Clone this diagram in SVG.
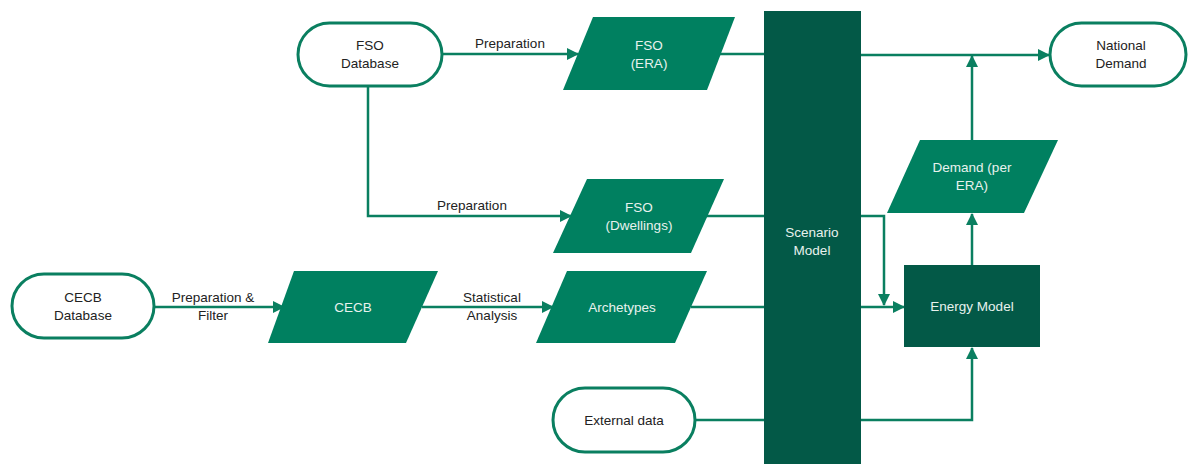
<svg xmlns="http://www.w3.org/2000/svg" width="1188" height="464" viewBox="0 0 1188 464">
<defs>
<style>
.pill{fill:#fff;stroke:#0a7f60;stroke-width:3}
.para{fill:#008060}
.dark{fill:#035947}
.t{font-family:"Liberation Sans",Arial,sans-serif;font-size:13.5px;text-anchor:middle;fill:#222}
.w{fill:#e8f2ee}
.c{fill:none;stroke:#0a7f60;stroke-width:2.5}
</style>
<marker id="ah" markerUnits="userSpaceOnUse" markerWidth="12" markerHeight="12" viewBox="0 0 12 12" refX="11" refY="6" orient="auto">
<path d="M0,0 L12,6 L0,12 Z" fill="#0a7f60"/>
</marker>
</defs>
<rect width="1188" height="464" fill="#fff"/>
<g id="connectors">
<path class="c" d="M442,54 H578" marker-end="url(#ah)"/>
<path class="c" d="M718,54 H764"/>
<path class="c" d="M861,55 H1049" marker-end="url(#ah)"/>
<path class="c" d="M972,140 V56" marker-end="url(#ah)"/>
<path class="c" d="M368,86 V216 H571" marker-end="url(#ah)"/>
<path class="c" d="M705,216 H764"/>
<path class="c" d="M861,216 H884 V305" marker-end="url(#ah)"/>
<path class="c" d="M154,307 H284" marker-end="url(#ah)"/>
<path class="c" d="M422,307 H553" marker-end="url(#ah)"/>
<path class="c" d="M691,307 H764"/>
<path class="c" d="M861,307 H904" marker-end="url(#ah)"/>
<path class="c" d="M972,265 V214" marker-end="url(#ah)"/>
<path class="c" d="M695,420 H764"/>
<path class="c" d="M861,420 H972 V348" marker-end="url(#ah)"/>
</g>
<g id="scenario-model">
<rect class="dark" x="764" y="11" width="97" height="453"/>
<text class="t w" x="812" y="237">Scenario</text>
<text class="t w" x="812" y="255">Model</text>
</g>
<g id="fso-database">
<rect class="pill" x="298" y="23" width="144" height="63" rx="31.5"/>
<text class="t" x="370" y="50">FSO</text>
<text class="t" x="370" y="68">Database</text>
</g>
<g id="fso-era">
<polygon class="para" points="593,17 735,17 707,90 563,90"/>
<text class="t w" x="649" y="50">FSO</text>
<text class="t w" x="649" y="68">(ERA)</text>
</g>
<g id="national-demand">
<rect class="pill" x="1050" y="23" width="136" height="63" rx="31.5"/>
<text class="t" x="1121" y="50">National</text>
<text class="t" x="1121" y="68">Demand</text>
</g>
<g id="fso-dwellings">
<polygon class="para" points="587,179 724,179 691,253 553,253"/>
<text class="t w" x="639" y="212">FSO</text>
<text class="t w" x="639" y="230">(Dwellings)</text>
</g>
<g id="demand-per-era">
<polygon class="para" points="920,140 1058,140 1024,213 887,213"/>
<text class="t w" x="972" y="172">Demand (per</text>
<text class="t w" x="972" y="190">ERA)</text>
</g>
<g id="cecb-database">
<rect class="pill" x="12" y="274" width="142" height="64" rx="32"/>
<text class="t" x="83" y="302">CECB</text>
<text class="t" x="83" y="320">Database</text>
</g>
<g id="cecb">
<polygon class="para" points="294,271 438,271 406,343 268,343"/>
<text class="t w" x="353" y="312">CECB</text>
</g>
<g id="archetypes">
<polygon class="para" points="567,271 707,271 675,343 536,343"/>
<text class="t w" x="622" y="312">Archetypes</text>
</g>
<g id="energy-model">
<rect class="dark" x="904" y="265" width="136" height="82"/>
<text class="t w" x="972" y="311">Energy Model</text>
</g>
<g id="external-data">
<rect class="pill" x="553" y="388" width="142" height="64" rx="32"/>
<text class="t" x="624" y="425">External data</text>
</g>
<g id="labels">
<text class="t" x="510" y="48">Preparation</text>
<text class="t" x="472" y="210">Preparation</text>
<text class="t" x="213" y="302">Preparation &amp;</text>
<text class="t" x="213" y="320">Filter</text>
<text class="t" x="492" y="302">Statistical</text>
<text class="t" x="492" y="320">Analysis</text>
</g>
</svg>
